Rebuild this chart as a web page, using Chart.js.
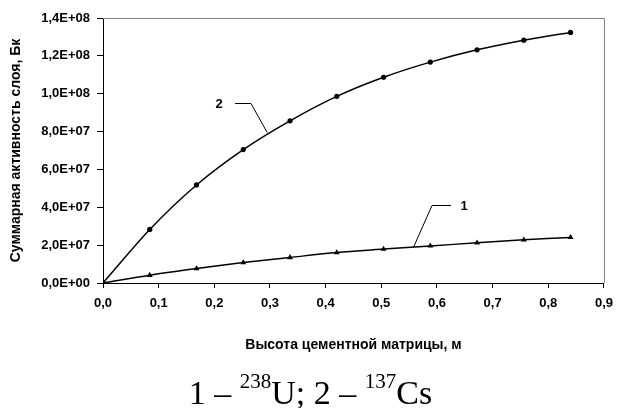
<!DOCTYPE html>
<html>
<head>
<meta charset="utf-8">
<script src="https://cdn.jsdelivr.net/npm/chart.js@4"></script>
<style>
  html, body { margin: 0; padding: 0; background: #fff; }
  #wrap { position: relative; width: 621px; height: 408px; }
  #caption {
    position: absolute; left: 0; width: 621px; top: 376px;
    text-align: center; font-family: "Liberation Serif", "Times New Roman", serif;
    font-size: 34px; line-height: 34px; color: #000; white-space: nowrap;
  }
  #caption sup { font-size: 21px; line-height: 0; vertical-align: baseline; position: relative; top: -16px; }
</style>
</head>
<body>
<div id="wrap">
  <canvas id="chart" width="621" height="408"></canvas>
  <div id="caption">1 – <sup>238</sup>U; 2 – <sup>137</sup>Cs</div>
</div>
<script>
// heights of the cement matrix, m
const heights = [0, 0.084, 0.168, 0.252, 0.336, 0.42, 0.504, 0.588, 0.672, 0.756, 0.84];
// 1 - U-238, Bq
const uranium = [0, 0.41e7, 0.76e7, 1.08e7, 1.35e7, 1.61e7, 1.79e7, 1.96e7, 2.12e7, 2.28e7, 2.41e7];
// 2 - Cs-137, Bq
const cesium = [0, 2.83e7, 5.18e7, 7.05e7, 8.57e7, 9.86e7, 10.87e7, 11.67e7, 12.32e7, 12.83e7, 13.24e7];

const yTitle = 'Суммарная активность слоя, Бк';
const xTitle = 'Высота цементной матрицы, м';

const toPoints = vals => heights.map((h, i) => ({ x: h, y: vals[i] }));

function sciLabel(v) {
  if (v === 0) return '0,0E+00';
  const exp = Math.floor(Math.log10(Math.abs(v)) + 1e-9);
  const mant = v / Math.pow(10, exp);
  return mant.toFixed(1).replace('.', ',') + 'E+' + String(exp).padStart(2, '0');
}

const tickFont = { family: '"Liberation Sans", Arial, sans-serif', size: 13, weight: 'bold' };

const extras = {
  id: 'extras',
  afterDraw(chart) {
    const { ctx, chartArea: a, scales } = chart;
    ctx.save();
    // plot frame: grey top and right
    ctx.strokeStyle = '#808080';
    ctx.lineWidth = 1;
    ctx.beginPath();
    ctx.moveTo(a.left, a.top + 0.5);
    ctx.lineTo(a.right + 0.5, a.top + 0.5);
    ctx.lineTo(a.right + 0.5, a.bottom);
    ctx.stroke();

    // axis titles
    ctx.fillStyle = '#000';
    ctx.font = 'bold 14px "Liberation Sans", Arial, sans-serif';
    ctx.textAlign = 'center';
    ctx.textBaseline = 'middle';
    ctx.fillText(xTitle, (a.left + a.right) / 2, 345);
    ctx.save();
    ctx.translate(16, (a.top + a.bottom) / 2);
    ctx.rotate(-Math.PI / 2);
    ctx.fillText(yTitle, 0, 0);
    ctx.restore();

    // curve labels with leader lines
    const x = scales.x, y = scales.y;
    ctx.strokeStyle = '#000';
    ctx.beginPath();
    // "2" leader: points at the Cs curve
    const c2x = x.getPixelForValue(0.295), c2y = y.getPixelForValue(7.95e7);
    ctx.moveTo(235, 103.5);
    ctx.lineTo(251, 103.5);
    ctx.lineTo(c2x, c2y);
    // "1" leader: points at the U curve
    const c1x = x.getPixelForValue(0.558), c1y = y.getPixelForValue(1.9e7);
    ctx.moveTo(451, 205.5);
    ctx.lineTo(432, 205.5);
    ctx.lineTo(c1x, c1y);
    ctx.stroke();
    ctx.font = 'bold 13px "Liberation Sans", Arial, sans-serif';
    ctx.fillText('2', 219, 104);
    ctx.fillText('1', 464, 206);
    ctx.restore();
  }
};

new Chart(document.getElementById('chart'), {
  type: 'scatter',
  data: {
    datasets: [
      {
        label: '1',
        data: toPoints(uranium),
        showLine: true,
        borderColor: '#000',
        backgroundColor: '#000',
        borderWidth: 1.5,
        tension: 0.3,
        pointStyle: 'triangle',
        pointRadius: 3.4,
        pointBorderWidth: 0
      },
      {
        label: '2',
        data: toPoints(cesium),
        showLine: true,
        borderColor: '#000',
        backgroundColor: '#000',
        borderWidth: 1.5,
        tension: 0.3,
        pointStyle: 'circle',
        pointRadius: 2.6,
        pointBorderWidth: 0
      }
    ]
  },
  options: {
    responsive: false,
    animation: false,
    layout: { padding: { top: 18, right: 13, left: 0, bottom: 0 } },
    plugins: { legend: { display: false }, tooltip: { enabled: false } },
    scales: {
      x: {
        type: 'linear',
        min: 0, max: 0.9,
        grid: { drawOnChartArea: false, drawTicks: true, tickLength: 5, color: '#000' },
        border: { display: true, color: '#000', width: 1 },
        ticks: {
          stepSize: 0.1, color: '#000', font: tickFont, padding: 8, maxRotation: 0,
          callback: v => v.toFixed(1).replace('.', ',')
        },
        afterFit: s => { s.height = 125; }
      },
      y: {
        type: 'linear',
        min: 0, max: 1.4e8,
        grid: { drawOnChartArea: false, drawTicks: true, tickLength: 6, color: '#000' },
        border: { display: true, color: '#000', width: 1 },
        ticks: { stepSize: 2e7, color: '#000', font: tickFont, padding: 7, callback: v => sciLabel(v) },
        afterFit: s => { s.width = 103; }
      }
    }
  },
  plugins: [extras]
});
</script>
</body>
</html>
